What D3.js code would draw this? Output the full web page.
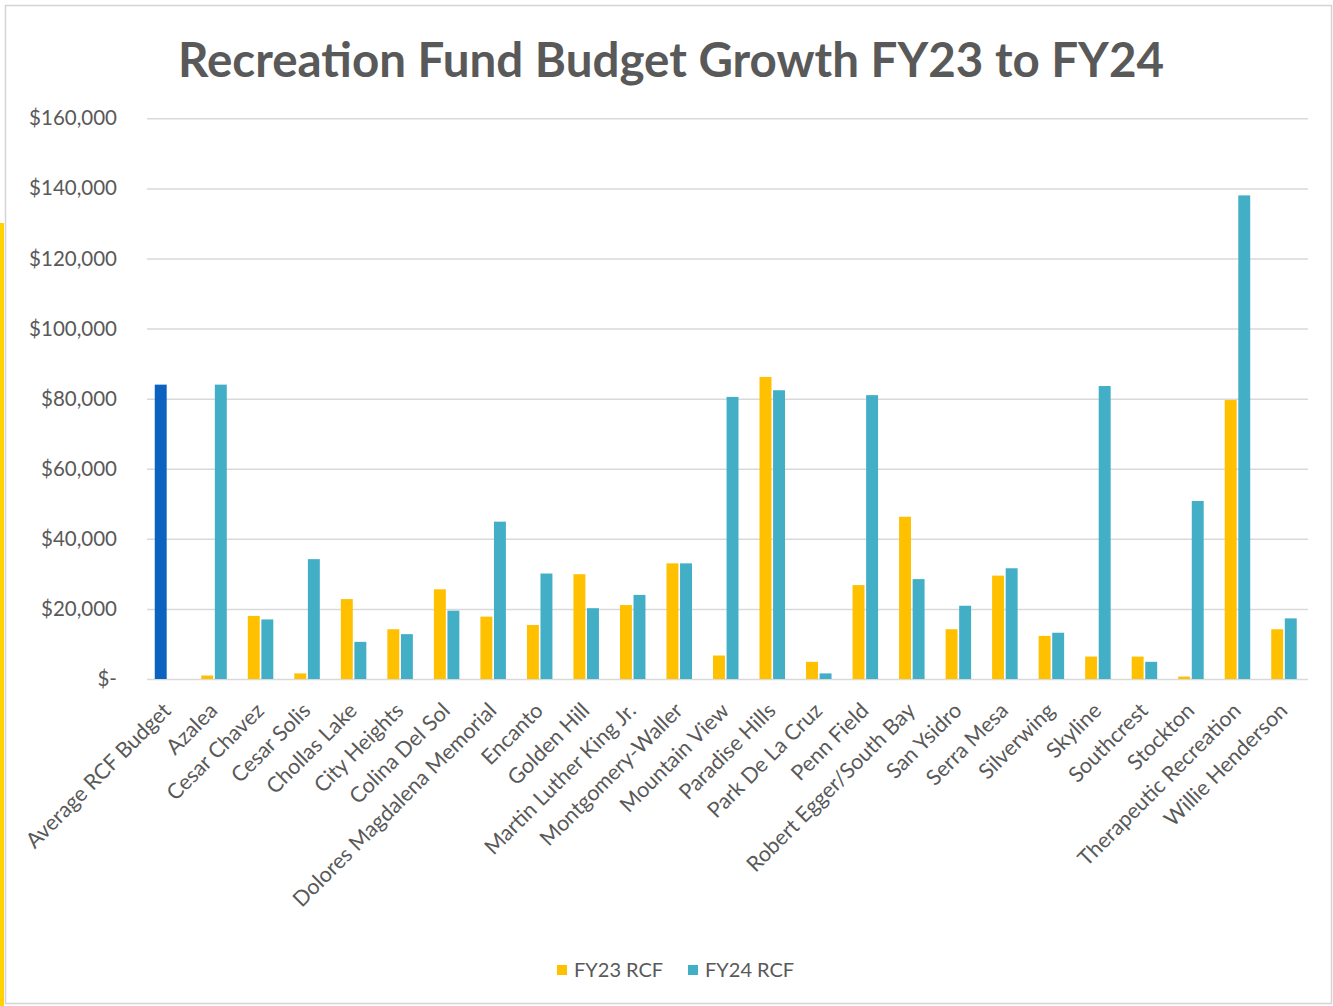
<!DOCTYPE html>
<html>
<head>
<meta charset="utf-8">
<script src="https://cdn.jsdelivr.net/npm/d3@7"></script>
<style>
  html, body { margin: 0; padding: 0; background: #ffffff; }
  svg { display: block; }
  text { font-family: Lato, "Open Sans", sans-serif; }
</style>
</head>
<body>
<svg id="chart" width="1333" height="1006"></svg>
<script>
// Recreation Council Fund budgets per recreation council, FY23 vs FY24
const categories = [
  "Average RCF Budget", "Azalea", "Cesar Chavez", "Cesar Solis", "Chollas Lake",
  "City Heights", "Colina Del Sol", "Dolores Magdalena Memorial", "Encanto",
  "Golden Hill", "Martin Luther King Jr.", "Montgomery-Waller", "Mountain View",
  "Paradise Hills", "Park De La Cruz", "Penn Field", "Robert Egger/South Bay",
  "San Ysidro", "Serra Mesa", "Silverwing", "Skyline", "Southcrest", "Stockton",
  "Therapeutic Recreation", "Willie Henderson"
];

const fy23 = [
  84000, 1000, 18000, 1600, 22800,
  14200, 25600, 17800, 15400,
  29900, 21100, 33000, 6700,
  86200, 4900, 26800, 46300,
  14200, 29500, 12300, 6400, 6400, 700,
  79600, 14200
];

const fy24 = [
  null, 84000, 17000, 34200, 10600,
  12800, 19500, 44900, 30100,
  20200, 24000, 33000, 80500,
  82400, 1600, 81000, 28500,
  20900, 31600, 13200, 83600, 4900, 50800,
  138000, 17300
];

const seriesNames = ["FY23 RCF", "FY24 RCF"];
const yTicks = [0, 20000, 40000, 60000, 80000, 100000, 120000, 140000, 160000];
const yTickLabels = ["$-", "$20,000", "$40,000", "$60,000", "$80,000",
                     "$100,000", "$120,000", "$140,000", "$160,000"];

const colors = { fy23: "#FFC000", fy24: "#42AFC7", average: "#0B63BF" };
const textColor = "#595959";

const svg = d3.select("#chart");
const W = 1333, H = 1006;

// page background, left accent strip and chart frame
svg.append("rect").attr("width", W).attr("height", H).attr("fill", "#ffffff");
svg.append("rect").attr("x", 0).attr("y", 223).attr("width", 4).attr("height", H - 223)
  .attr("fill", "#FFD200");
svg.append("rect").attr("x", 5.5).attr("y", 5.5).attr("width", W - 7).attr("height", H - 8)
  .attr("fill", "none").attr("stroke", "#d4d4d4").attr("stroke-width", 1.5);

// title
svg.append("text")
  .attr("x", 671).attr("y", 77)
  .attr("text-anchor", "middle")
  .attr("font-size", 47.5).attr("font-weight", 700)
  .attr("fill", textColor)
  .text("Recreation Fund Budget Growth FY23 to FY24");

const plot = { left: 147, right: 1308, top: 118.3, bottom: 679 };

const y = d3.scaleLinear().domain([0, 160000]).range([plot.bottom, plot.top]);
const x = d3.scaleBand().domain(categories).range([144, 1307]).paddingInner(0).paddingOuter(0);
const xSub = d3.scaleBand().domain(seriesNames).range([-12.5, 13]).paddingInner(0.12);

// horizontal gridlines
const grid = svg.append("g")
  .attr("transform", `translate(${plot.left},0)`)
  .call(d3.axisLeft(y).tickValues(yTicks).tickSize(-(plot.right - plot.left)).tickFormat(""));
grid.select(".domain").remove();
grid.selectAll(".tick line").attr("stroke", "#d9d9d9").attr("stroke-width", 1.5);

// y axis labels
const yAxis = svg.append("g")
  .attr("transform", `translate(${plot.left},0)`)
  .call(d3.axisLeft(y).tickValues(yTicks).tickSize(0).tickPadding(30)
    .tickFormat((d, i) => yTickLabels[i]));
yAxis.select(".domain").remove();
yAxis.selectAll("text").attr("font-size", 20.5).attr("fill", textColor)
  .attr("font-family", "Lato, 'Open Sans', sans-serif");

// bars
const rows = categories.map((c, i) => ({ c, i, v23: fy23[i], v24: fy24[i] }));
const barG = svg.append("g");
barG.selectAll("rect.fy23").data(rows.filter(d => d.v23 != null)).join("rect")
  .attr("class", "fy23")
  .attr("x", d => x(d.c) + x.bandwidth() / 2 + xSub(seriesNames[0]))
  .attr("width", xSub.bandwidth())
  .attr("y", d => y(d.v23))
  .attr("height", d => y(0) - y(d.v23))
  .attr("fill", d => d.i === 0 ? colors.average : colors.fy23);
barG.selectAll("rect.fy24").data(rows.filter(d => d.v24 != null)).join("rect")
  .attr("class", "fy24")
  .attr("x", d => x(d.c) + x.bandwidth() / 2 + xSub(seriesNames[1]))
  .attr("width", xSub.bandwidth())
  .attr("y", d => y(d.v24))
  .attr("height", d => y(0) - y(d.v24))
  .attr("fill", colors.fy24);

// category axis, labels rotated 45 degrees
const xAxis = svg.append("g")
  .attr("transform", `translate(0,${plot.bottom})`)
  .call(d3.axisBottom(x).tickSize(0));
xAxis.select(".domain").remove();
xAxis.selectAll("text")
  .attr("x", 0).attr("y", 0).attr("dy", 0)
  .attr("transform", "translate(5,33) rotate(-45)")
  .style("text-anchor", "end")
  .attr("font-size", 21.5).attr("fill", textColor)
  .attr("font-family", "Lato, 'Open Sans', sans-serif");

// legend
const legend = svg.append("g").attr("transform", "translate(557,970)");
const legendItems = [
  { name: seriesNames[0], color: colors.fy23, x: 0 },
  { name: seriesNames[1], color: colors.fy24, x: 131 }
];
const li = legend.selectAll("g").data(legendItems).join("g")
  .attr("transform", d => `translate(${d.x},0)`);
li.append("rect").attr("x", 0).attr("y", -5).attr("width", 10).attr("height", 10)
  .attr("fill", d => d.color);
li.append("text").attr("x", 17).attr("y", 0).attr("dy", "0.35em")
  .attr("font-size", 20).attr("fill", textColor)
  .text(d => d.name);
</script>
</body>
</html>
